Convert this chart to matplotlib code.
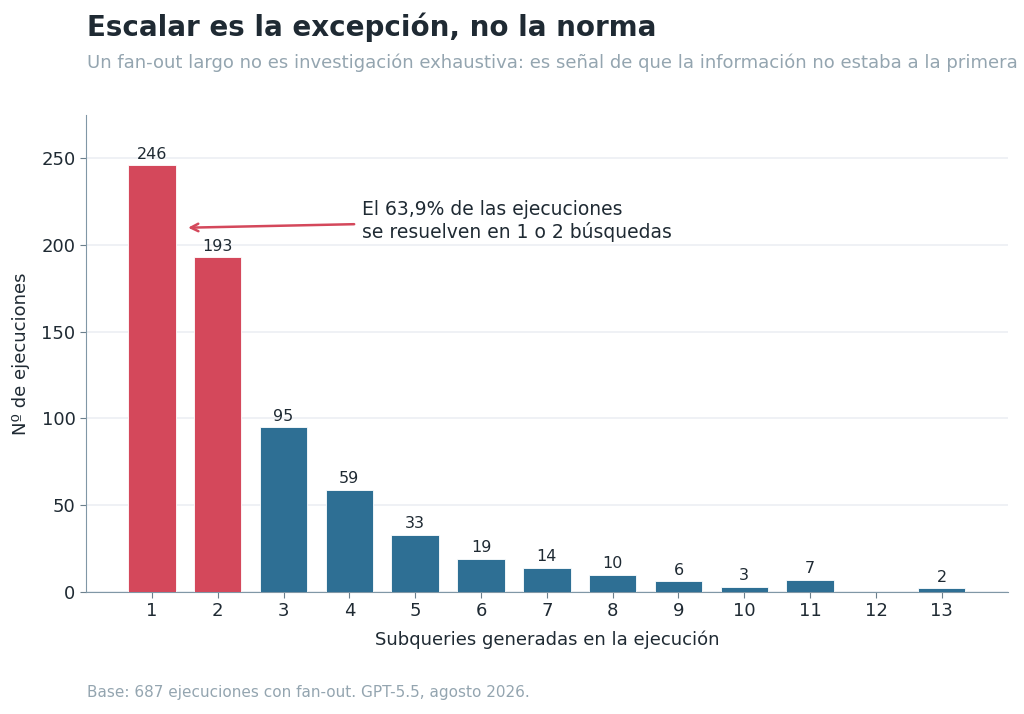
import matplotlib.pyplot as plt

# data
subqueries = [1, 2, 3, 4, 5, 6, 7, 8, 9, 10, 11, 12, 13]
ejecuciones = [246, 193, 95, 59, 33, 19, 14, 10, 6, 3, 7, 0, 2]
destacadas = [1, 2]
xtick_labels = [str(s) for s in subqueries]

RED = '#d4485b'
BLUE = '#2e6f94'
DARK = '#1f2a33'
GREY = '#94a5b0'

fig = plt.figure(figsize=(10.24, 7.14), dpi=100)
ax = fig.add_axes([0.084, 0.171, 0.9, 0.668])

colors = [RED if s in destacadas else BLUE for s in subqueries]
bars = ax.bar(subqueries, ejecuciones, width=0.72, color=colors,
              edgecolor='white', linewidth=0.6, zorder=3)

for s, v in zip(subqueries, ejecuciones):
    if v > 0:
        ax.text(s, v + 2, str(v), ha='center', va='bottom', fontsize=11.5, color=DARK)

ax.set_xlim(0, 14)
ax.set_ylim(0, 275)
ax.set_xticks(subqueries)
ax.set_xticklabels(xtick_labels)
ax.set_yticks([0, 50, 100, 150, 200, 250])
ax.tick_params(axis='both', labelsize=13, colors=DARK, length=4)
ax.tick_params(axis='both', color='#6b7f8c')
ax.grid(axis='y', color='#eceff3', linewidth=1.2, zorder=0)

for side in ['top', 'right']:
    ax.spines[side].set_visible(False)
for side in ['left', 'bottom']:
    ax.spines[side].set_color('#8097a6')

ax.set_xlabel('Subqueries generadas en la ejecución', fontsize=13, color=DARK, labelpad=7)
ax.set_ylabel('Nº de ejecuciones', fontsize=13, color=DARK, labelpad=8)

ax.annotate('El 63,9% de las ejecuciones\nse resuelven en 1 o 2 búsquedas',
            xy=(1.55, 210), xytext=(4.2, 214), fontsize=13.5, color=DARK,
            ha='left', va='center',
            arrowprops=dict(arrowstyle='->', color=RED, lw=1.8,
                            shrinkA=4, shrinkB=0))

fig.text(0.085, 0.962, 'Escalar es la excepción, no la norma', fontsize=20,
         fontweight='bold', color=DARK, va='center')
fig.text(0.085, 0.912, 'Un fan-out largo no es investigación exhaustiva: es señal de que la información no estaba a la primera',
         fontsize=13, color=GREY, va='center')
fig.text(0.085, 0.030, 'Base: 687 ejecuciones con fan-out. GPT-5.5, agosto 2026.',
         fontsize=11, color=GREY, va='center')

fig.savefig('out.png', dpi=100)
